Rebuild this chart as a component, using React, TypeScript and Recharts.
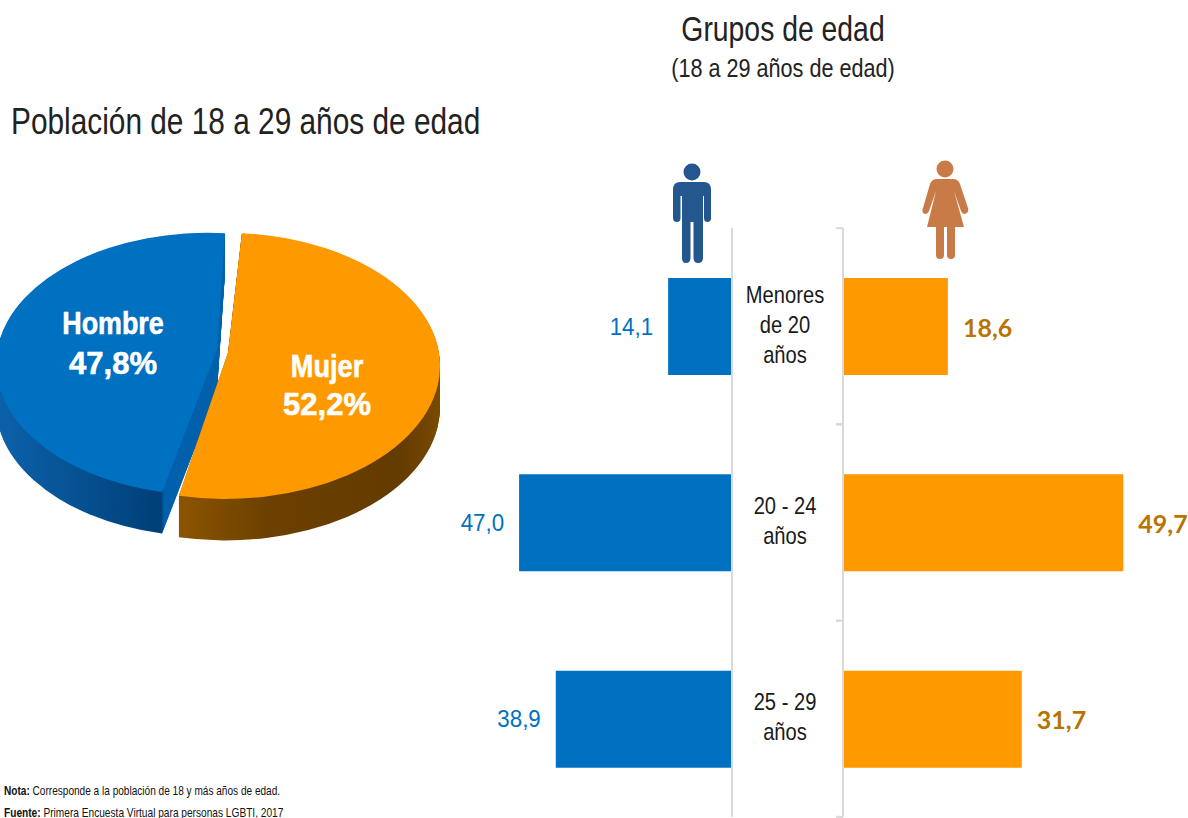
import React from "react";
import { BarChart, Bar, XAxis, YAxis, LabelList, PieChart, Pie } from "recharts";

const ageGroups = ["Menores\nde 20\naños", "20 - 24\naños", "25 - 29\naños"];
const menValues = [14.1, 47.0, 38.9];
const womenValues = [18.6, 49.7, 31.7];
const pieNames = ["Hombre", "Mujer"];
const pieValues = [47.8, 52.2];

const barRows = ageGroups.map((category, i) => ({ category, men: menValues[i], women: womenValues[i] }));
const comma = (v: number) => v.toFixed(1).replace(".", ",");

const SANS = "'Liberation Sans', sans-serif";
const BLUE = "#0070c0";
const ORANGE = "#ff9900";
const K = 0.619;
const CY = 364 / K;
const CY_MUJER = CY + 3;
const DEPTH = 67;
const layers: number[] = [];
for (let d = DEPTH; d > 0; d -= 1.5) layers.push(d);

const hombreStart = 257.5;
const mujerStart = 85.5;
const hombreEnd = hombreStart - pieValues[0] * 3.6;
const mujerEnd = mujerStart - pieValues[1] * 3.6;

const apexShape = (apexDx: number, apexDy: number) => (p: any) => {
  const { cx, cy, outerRadius: r, startAngle, endAngle, fill } = p;
  const rad = Math.PI / 180;
  const sx = cx + r * Math.cos(startAngle * rad);
  const sy = cy - r * Math.sin(startAngle * rad);
  const ex = cx + r * Math.cos(endAngle * rad);
  const ey = cy - r * Math.sin(endAngle * rad);
  const large = Math.abs(startAngle - endAngle) > 180 ? 1 : 0;
  return <path d={`M${cx + apexDx} ${cy + apexDy} L${sx} ${sy} A${r} ${r} 0 ${large} 1 ${ex} ${ey} Z`} fill={fill} stroke="none" />;
};
const hombreShape = apexShape(9, -23);
const mujerShape = apexShape(3, -22);

function AgeTick(props: any) {
  const { x, y, payload } = props;
  const lines = String(payload.value).split("\n");
  const n = lines.length;
  return (
    <g>
      {lines.map((l: string, i: number) => (
        <text
          key={i}
          transform={`translate(${x - 50},${y + (i - (n - 1) / 2) * 30 + 6.5}) scale(0.84,1)`}
          textAnchor="middle"
          fontSize={24}
          fontFamily={SANS}
          fill="#1a1a1a"
        >
          {l}
        </text>
      ))}
      <path d={`M${x + 1} ${y - 98} H${x + 8}`} stroke="#d9d9d9" strokeWidth={2} fill="none" />
      <path d={`M${x + 1} ${y + 98} H${x + 8}`} stroke="#d9d9d9" strokeWidth={2} fill="none" />
    </g>
  );
}

function MenLabel({ x, y, width, height, value }: any) {
  const left = Math.min(x, x + width);
  return (
    <text transform={`translate(${left - 15},${y + height / 2 + 8}) scale(0.93,1)`} textAnchor="end" fontSize={24} fontFamily={SANS} fill={BLUE}>
      {comma(value)}
    </text>
  );
}

function WomenLabel({ x, y, width, height, value }: any) {
  return (
    <text x={x + width + 15} y={y + height / 2 + 10} fontSize={25} fontWeight={700} fontFamily="Lato, sans-serif" fill="#b87400">
      {comma(value)}
    </text>
  );
}

const abs = (left: number, top: number, extra: React.CSSProperties = {}): React.CSSProperties => ({
  position: "absolute",
  left,
  top,
  whiteSpace: "nowrap",
  fontFamily: SANS,
  ...extra,
});

function Center({ x, y, size, bold, color, squeeze, children }: any) {
  return (
    <div
      style={abs(x - 300, y - size * 0.6, {
        width: 600,
        textAlign: "center",
        fontSize: size,
        lineHeight: `${size * 1.2}px`,
        fontWeight: bold ? 700 : 400,
        color,
        transform: `scaleX(${squeeze})`,
        WebkitTextStroke: bold ? "0.6px #fff" : undefined,
      })}
    >
      {children}
    </div>
  );
}

function ManIcon() {
  return (
    <svg style={{ position: "absolute", left: 665, top: 155 }} width={56} height={115} viewBox="665 155 56 115">
      <circle cx={692} cy={172} r={8.5} fill="#25578f" />
      <path
        fill="#25578f"
        d="M680 182 H704 Q711 182 711 190 V218 Q711 222 707.5 222 Q704 222 704 218 V196 H703 V258 Q703 263 698 263 Q693.5 263 693.5 258 V222 H690.5 V258 Q690.5 263 686 263 Q682 263 682 258 V196 H680.5 V218 Q680.5 222 677 222 Q673 222 673 218 V190 Q673 182 680 182 Z"
      />
    </svg>
  );
}

function WomanIcon() {
  return (
    <svg style={{ position: "absolute", left: 915, top: 150 }} width={60} height={115} viewBox="915 150 60 115">
      <circle cx={945} cy={169} r={8.5} fill="#c97b47" />
      <path
        fill="#c97b47"
        d="M937 179 H953 Q958 179 960 184 L968 208 Q969 213 965 214 Q962 214 961 211 L954 191 L964 227 H955 V255 Q955 259 951 259 Q947 259 947 255 V227 H944 V255 Q944 259 940 259 Q936 259 936 255 V227 H927 L936 191 L929 211 Q928 214 925 214 Q921 213 923 208 L930 184 Q932 179 937 179 Z"
      />
    </svg>
  );
}

export default function App() {
  return (
    <div style={{ position: "absolute", left: 0, top: 0, width: 1188, height: 818, overflow: "hidden", background: "#fff" }}>
      <div style={abs(11, 100, { fontSize: 37, lineHeight: "44px", color: "#222", transform: "scaleX(0.806)", transformOrigin: "0 0" })}>
        Población de 18 a 29 años de edad
      </div>
      <Center x={783} y={29} size={35} color="#222" squeeze={0.81}>Grupos de edad</Center>
      <Center x={783} y={68} size={25} color="#222" squeeze={0.864}>(18 a 29 años de edad)</Center>

      <div style={{ position: "absolute", left: 0, top: 0, transform: `scaleY(${K})`, transformOrigin: "0 0" }}>
        <PieChart width={460} height={900} margin={{ top: 0, right: 0, bottom: 0, left: 0 }}>
          <defs>
            <linearGradient id="blueSide" x1="0" y1="0" x2="1" y2="0">
              <stop offset="0" stopColor="#0c62ab" />
              <stop offset="0.72" stopColor="#003f78" />
              <stop offset="0.735" stopColor="#0060ab" />
              <stop offset="1" stopColor="#0060ab" />
            </linearGradient>
            <linearGradient id="orangeSide" x1="0" y1="0" x2="1" y2="0">
              <stop offset="0" stopColor="#8c5400" />
              <stop offset="0.35" stopColor="#6b4000" />
              <stop offset="0.85" stopColor="#643b00" />
              <stop offset="1" stopColor="#7a4a00" />
            </linearGradient>
          </defs>
          {layers.map((d) => (
            <Pie key={"h" + d} data={[{ name: pieNames[0], value: pieValues[0] }]} dataKey="value" cx={208} cy={CY + d} outerRadius={212} startAngle={hombreStart} endAngle={hombreEnd} fill="url(#blueSide)" stroke="none" shape={hombreShape} isAnimationActive={false} />
          ))}
          <Pie data={[{ name: pieNames[0], value: pieValues[0] }]} dataKey="value" cx={208} cy={CY} outerRadius={212} startAngle={hombreStart} endAngle={hombreEnd} fill={BLUE} stroke="none" shape={hombreShape} isAnimationActive={false} />
          {layers.map((d) => (
            <Pie key={"m" + d} data={[{ name: pieNames[1], value: pieValues[1] }]} dataKey="value" cx={225} cy={CY_MUJER + d} outerRadius={215} startAngle={mujerStart} endAngle={mujerEnd} fill="url(#orangeSide)" stroke="none" shape={mujerShape} isAnimationActive={false} />
          ))}
          <Pie data={[{ name: pieNames[1], value: pieValues[1] }]} dataKey="value" cx={225} cy={CY_MUJER} outerRadius={215} startAngle={mujerStart} endAngle={mujerEnd} fill={ORANGE} stroke="none" shape={mujerShape} isAnimationActive={false} />
        </PieChart>
      </div>

      <Center x={113} y={323} size={32} bold color="#fff" squeeze={0.84}>{pieNames[0]}</Center>
      <Center x={113} y={363} size={32} bold color="#fff" squeeze={0.97}>{comma(pieValues[0])}%</Center>
      <Center x={327} y={366} size={32} bold color="#fff" squeeze={0.85}>{pieNames[1]}</Center>
      <Center x={327} y={404} size={32} bold color="#fff" squeeze={0.97}>{comma(pieValues[1])}%</Center>

      <ManIcon />
      <WomanIcon />

      <div style={{ position: "absolute", left: 400, top: 218 }}>
        <BarChart width={333} height={609} data={barRows} layout="vertical" margin={{ top: 10, bottom: 10, left: 105.5, right: 0 }}>
          <XAxis type="number" domain={[0, 50]} reversed hide />
          <YAxis type="category" dataKey="category" orientation="right" width={1} tick={false} tickLine={false} axisLine={{ stroke: "#d9d9d9", strokeWidth: 2 }} />
          <Bar dataKey="men" fill={BLUE} barSize={97} isAnimationActive={false}>
            <LabelList dataKey="men" content={<MenLabel />} />
          </Bar>
        </BarChart>
      </div>

      <div style={{ position: "absolute", left: 723, top: 218 }}>
        <BarChart width={465} height={609} data={barRows} layout="vertical" margin={{ top: 10, bottom: 10, left: 0, right: 63 }}>
          <XAxis type="number" domain={[0, 50]} hide />
          <YAxis type="category" dataKey="category" orientation="left" width={120} tick={<AgeTick />} tickLine={false} axisLine={{ stroke: "#d9d9d9", strokeWidth: 2 }} interval={0} />
          <Bar dataKey="women" fill={ORANGE} barSize={97} isAnimationActive={false}>
            <LabelList dataKey="women" content={<WomenLabel />} />
          </Bar>
        </BarChart>
      </div>

      <div style={abs(4, 783, { fontSize: 13, lineHeight: "16px", color: "#111", transform: "scaleX(0.775)", transformOrigin: "0 0" })}>
        <b>Nota:</b> Corresponde a la población de 18 y más años de edad.
      </div>
      <div style={abs(4, 805, { fontSize: 13, lineHeight: "16px", color: "#111", transform: "scaleX(0.78)", transformOrigin: "0 0" })}>
        <b>Fuente:</b> Primera Encuesta Virtual para personas LGBTI, 2017
      </div>
    </div>
  );
}
